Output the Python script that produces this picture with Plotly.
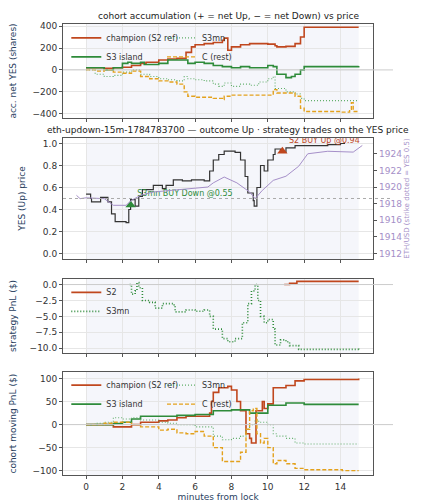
import plotly.graph_objects as go
from plotly.subplots import make_subplots

# ---- panel 1: accumulation (shares)
acc_champ_t = [0,1,1.5,2,2.5,3,3.3,4,4.5,5,5.5,5.8,6,6.5,7,7.5,7.6,7.8,8,8.5,9,10,10.4,10.5,11,11.5,11.8,12,15]
acc_champ_v = [20,15,20,25,40,60,70,90,100,105,160,210,230,240,250,270,290,180,210,230,240,235,220,210,215,240,300,390,390]
acc_isl_t = [0,1,1.5,2,2.3,2.5,3,3.2,4,4.5,5,5.6,6,6.5,7,7.5,8,8.5,9,10,10.3,10.5,11,11.3,11.5,11.8,12,15]
acc_isl_v = [20,0,20,60,70,60,70,50,60,90,90,60,70,60,40,30,20,30,20,40,30,-40,-70,-60,-40,0,30,35]
acc_mn_t = [0,0.5,1,1.5,2,2.5,3,3.5,4,4.5,5,5.4,5.6,6,6.5,7,7.3,7.6,8,8.5,9,9.5,10,10.3,10.4,11,11.5,11.8,12,15]
acc_mn_v = [0,-40,-60,-50,-20,0,-40,-60,-80,-90,-100,-60,-80,-90,-100,-130,-150,-120,-150,-130,-140,-110,-80,-60,-170,-200,-220,-260,-280,-280]
acc_c_t = [0,0.5,1,1.5,2,2.5,3,3.5,4,4.5,5,5.4,5.6,6,7,7.5,7.6,8,9,10,10.3,10.5,11,11.5,11.8,12,14,14.5,14.6,14.7,15]
acc_c_v = [0,-10,0,-20,-30,-10,-60,-80,-100,-110,-130,-200,-240,-250,-260,-270,-240,-230,-230,-230,-180,-210,-210,-240,-350,-380,-385,-360,-300,-380,-380]

# ---- panel 2: YES price and ETH
yes_t = [0,0.25,0.3,0.8,1.2,1.4,1.6,2.2,2.35,2.45,2.7,2.9,3.1,3.3,3.7,4.2,4.4,4.8,5.3,5.8,6.5,6.8,7,7.3,7.6,8.2,8.5,8.75,8.9,9.2,9.25,9.4,9.6,9.8,10,10.3,10.4,10.7,11,11.5,13.3,14,14.25]
yes_v = [0.54,0.50,0.47,0.51,0.47,0.36,0.29,0.28,0.40,0.49,0.43,0.52,0.58,0.58,0.62,0.59,0.62,0.67,0.66,0.67,0.66,0.75,0.85,0.90,0.93,0.92,0.85,0.70,0.55,0.48,0.43,0.60,0.80,0.75,0.85,0.90,0.95,0.92,0.96,0.98,0.99,1.0,1.0]
eth_t = [-0.53,-0.33,0,1,1.5,2.2,2.5,3,3.7,4.7,5.3,6.7,7,7.6,8.3,9,9.3,9.7,10.3,11,11.7,12.2,13.3,14.7,15.2]
eth_v = [1919,1918.6,1918.7,1918.6,1917.8,1917.8,1918.4,1919,1919.4,1919.6,1919.8,1920,1920.5,1921.2,1920.5,1919.4,1918.6,1919.6,1920.8,1921.3,1922.5,1924,1924.3,1924.2,1925]
trades_t = [2.45, 10.8]
trades_p = [0.44, 0.93]
trades_lbl = ["S3mn BUY Down @0.55", "S2 BUY Up @0.94"]

# ---- panel 3: strategy PnL
s2_t = [10.9,11.2,11.6,15]
s2_v = [0,0.2,0.5,0.5]
s3mn_t = [2.4,2.5,2.7,2.8,2.9,3.1,3.5,3.8,4.2,4.8,4.9,5.5,6,6.5,6.8,7,7.5,7.8,8.2,8.6,8.9,9.1,9.3,9.45,9.6,9.8,10,10.3,10.4,10.7,11,11.2,11.7,14,15]
s3mn_v = [0,-1.5,-1,0.3,-0.5,-2.5,-2.8,-3.7,-3,-3.2,-4.3,-4,-4.2,-4,-5,-7,-8.5,-9,-8.5,-6,-3,-1,0,-2.5,-5,-6,-5.5,-7,-9.5,-8.7,-9,-9.6,-10.2,-10.2,-10.3]

# ---- panel 4: cohort moving PnL
pnl_champ_t = [0,1.5,2,2.5,3,4,4.5,5,5.5,6,6.8,6.9,7,7.3,7.8,8,8.3,8.5,8.8,9,9.1,9.3,9.35,9.7,9.8,10,10.3,10.5,11,11.5,12,15]
pnl_champ_v = [0,-5,-5,0,5,8,10,15,18,18,25,50,70,80,83,75,50,30,-20,-30,-40,-40,30,50,35,45,80,80,85,95,98,100]
pnl_isl_t = [0,1,1.5,2,2.5,3,4,5,6,7,8,9,9.5,10,11,12,15]
pnl_isl_v = [0,0,2,5,12,18,18,20,22,30,32,25,25,42,47,44,44]
pnl_mn_t = [0,0.5,1,1.5,2,2.5,3,4,4.5,5,6,7,7.5,8,8.5,8.8,9,9.3,9.5,10,10.3,10.5,11,11.5,12,15]
pnl_mn_v = [0,3,5,15,12,15,10,5,3,0,-5,-25,-33,-30,-25,-10,0,10,5,0,-20,-25,-30,-40,-42,-42]
pnl_c_t = [0,1,1.5,2,2.5,3,4,4.5,5,5.5,6,6.5,7,7.5,8,8.5,8.8,9,9.2,9.4,9.6,9.8,10,10.3,10.5,11,11.5,12,14,14.1,15]
pnl_c_v = [0,3,5,5,0,-5,-12,-10,-18,-20,-15,-25,-50,-80,-80,-60,-10,30,35,-20,-40,-30,-50,-85,-78,-85,-95,-98,-98,-100,-100]

RUST, GREEN, LGREEN, ORANGE = "#c0471e", "#2e8b3a", "#5fae68", "#e3a11c"
PURPLE = "#a58fc8"
DASH, DOT = "4px,2px", "1px,2px"

fig = make_subplots(rows=4, cols=1, shared_xaxes=True,
                    specs=[[{}], [{"secondary_y": True}], [{}], [{}]])

def step(t, v, name, color, dash, width, row, legend, sec=False, show=True):
    fig.add_trace(go.Scatter(x=t, y=v, name=name, mode="lines", line_shape="hv",
                             line=dict(color=color, dash=dash, width=width),
                             legend=legend, showlegend=show), row=row, col=1, secondary_y=sec)

step(acc_champ_t, acc_champ_v, "champion (S2 ref)", RUST, "solid", 1.6, 1, "legend")
step(acc_isl_t, acc_isl_v, "S3 island", GREEN, "solid", 1.6, 1, "legend")
step(acc_mn_t, acc_mn_v, "S3mn", LGREEN, DOT, 1.1, 1, "legend2")
step(acc_c_t, acc_c_v, "C (rest)", ORANGE, DASH, 1.4, 1, "legend2")

fig.add_trace(go.Scatter(x=eth_t, y=eth_v, mode="lines", line=dict(color=PURPLE, width=1),
                         showlegend=False), row=2, col=1, secondary_y=True)
step(yes_t, yes_v, "YES", "#333333", "solid", 1.2, 2, "legend", show=False)
fig.add_trace(go.Scatter(x=trades_t, y=trades_p, mode="markers+text", text=trades_lbl,
                         textposition="top right",
                         textfont=dict(color=[GREEN, RUST], size=8, family="DejaVu Sans"),
                         marker=dict(symbol="triangle-up", size=9, color=[GREEN, RUST]),
                         showlegend=False), row=2, col=1)

step(s2_t, s2_v, "S2", RUST, "solid", 1.6, 3, "legend3")
step(s3mn_t, s3mn_v, "S3mn", GREEN, DOT, 1.6, 3, "legend3")

step(pnl_champ_t, pnl_champ_v, "champion (S2 ref)", RUST, "solid", 1.6, 4, "legend4")
step(pnl_isl_t, pnl_isl_v, "S3 island", GREEN, "solid", 1.6, 4, "legend4")
step(pnl_mn_t, pnl_mn_v, "S3mn", LGREEN, DOT, 1.1, 4, "legend5")
step(pnl_c_t, pnl_c_v, "C (rest)", ORANGE, DASH, 1.4, 4, "legend5")

doms = {"yaxis": [0.784, 0.974], "yaxis2": [0.5, 0.744], "yaxis3": [0.5, 0.744],
        "yaxis4": [0.31, 0.46], "yaxis5": [0.064, 0.272]}
ax_common = dict(showline=True, linecolor="#555", mirror=True, linewidth=1, gridcolor="#e6e6e6",
                 zeroline=False, ticks="outside", ticklen=3, tickcolor="#555",
                 tickfont=dict(size=9, color="#333"))
for k, d in doms.items():
    fig.layout[k].update(domain=d, **ax_common)
fig.layout.yaxis3.update(showgrid=False, mirror=False, tickfont=dict(size=9, color=PURPLE),
                         range=[1911.34, 1925.9], tickvals=[1912, 1914, 1916, 1918, 1920, 1922, 1924],
                         title=dict(text="ETH/USD (strike dotted = YES 0.5)", font=dict(size=7, color=PURPLE),
                                    standoff=2))
fig.layout.yaxis.update(range=[-440, 420], tickvals=[-400, -200, 0, 200, 400],
                        title=dict(text="acc. net YES (shares)", font=dict(size=9)))
fig.layout.yaxis2.update(range=[-0.05, 1.05], tickvals=[0, 0.2, 0.4, 0.6, 0.8, 1.0], tickformat=".1f",
                         title=dict(text="YES (Up) price", font=dict(size=9)))
fig.layout.yaxis4.update(range=[-10.8, 0.9], tickvals=[0, -2.5, -5, -7.5, -10], tickformat=".1f",
                         title=dict(text="strategy PnL ($)", font=dict(size=9)))
fig.layout.yaxis5.update(range=[-110, 114], tickvals=[-100, -50, 0, 50, 100],
                         title=dict(text="cohort moving PnL ($)", font=dict(size=9)))
for i in range(1, 5):
    xa = "xaxis" if i == 1 else f"xaxis{i}"
    fig.layout[xa].update(range=[-1.27, 15.8], tickvals=list(range(0, 16, 2)), **ax_common)
    if i < 4:
        fig.layout[xa].update(showticklabels=False)
fig.layout.xaxis4.update(title=dict(text="minutes from lock", font=dict(size=9), standoff=0))

# shaded data region and reference lines
for xr, yr in [("x", "y"), ("x2", "y2"), ("x3", "y4"), ("x4", "y5")]:
    fig.add_shape(type="rect", xref=xr, yref=f"{yr} domain", x0=0, x1=15, y0=0, y1=1,
                  fillcolor="#eef0f8", opacity=0.6, line_width=0, layer="below")
for yr in ["y", "y4", "y5"]:
    fig.add_shape(type="line", xref="paper", yref=yr, x0=0, x1=1, y0=0, y1=0,
                  line=dict(color="#cccccc", width=1))
fig.add_shape(type="line", xref="paper", yref="y2", x0=0, x1=1, y0=0.5, y1=0.5,
              line=dict(color="#aaaaaa", width=1, dash="dot"))

leg = dict(font=dict(size=8, color="#333"), bgcolor="rgba(255,255,255,0)", tracegroupgap=0,
           itemwidth=30, yanchor="top", xanchor="left")
fig.update_layout(
    legend=dict(x=0.01, y=0.975, **leg),
    legend2=dict(x=0.3, y=0.975, **leg),
    legend3=dict(x=0.01, y=0.462, **leg),
    legend4=dict(x=0.01, y=0.275, **leg),
    legend5=dict(x=0.3, y=0.275, **leg),
)

fig.add_annotation(text="cohort accumulation (+ = net Up, − = net Down) vs price", xref="paper", yref="paper",
                   x=0.5, y=0.976, yanchor="bottom", showarrow=False, font=dict(size=9, color="#222"))
fig.add_annotation(text="eth-updown-15m-1784783700 — outcome Up · strategy trades on the YES price",
                   xref="paper", yref="paper", x=0.5, y=0.746, yanchor="bottom", showarrow=False,
                   font=dict(size=9, color="#222"))

fig.update_layout(width=423, height=500, margin=dict(l=41, r=38, t=0, b=0),
                  paper_bgcolor="white", plot_bgcolor="white",
                  font=dict(family="DejaVu Sans", size=9))
fig.write_html("out.html")
